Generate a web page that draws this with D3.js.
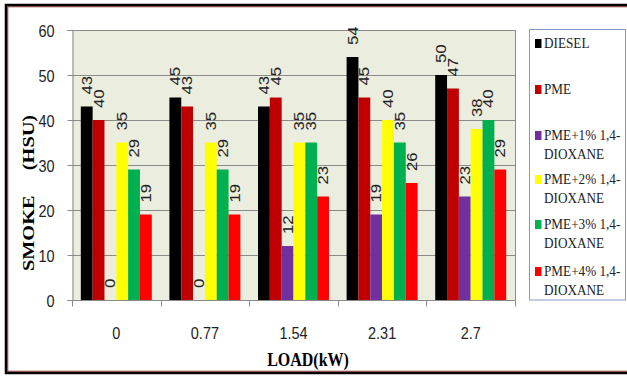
<!DOCTYPE html>
<html>
<head>
<meta charset="utf-8">
<script src="https://cdn.jsdelivr.net/npm/d3@7"></script>
<style>
  html, body { margin: 0; padding: 0; background: #fff; }
  svg { display: block; }
  text { white-space: pre; }
</style>
</head>
<body>
<svg id="chart" width="627" height="376"></svg>
<script>
// Engine load categories (kW)
const loads = ["0", "0.77", "1.54", "2.31", "2.7"];

// Smoke opacity (HSU) for each fuel blend
const diesel    = [43, 45, 43, 54, 50];
const pme       = [40, 43, 45, 45, 47];
const pmeDiox1  = [0, 0, 12, 19, 23];
const pmeDiox2  = [35, 35, 35, 40, 38];
const pmeDiox3  = [29, 29, 35, 35, 40];
const pmeDiox4  = [19, 19, 23, 26, 29];

const seriesNames = ["DIESEL", "PME", "PME+1% 1,4-DIOXANE", "PME+2% 1,4-DIOXANE", "PME+3% 1,4-DIOXANE", "PME+4% 1,4-DIOXANE"];
const legendLines = [["DIESEL"], ["PME"], ["PME+1% 1,4-", "DIOXANE"], ["PME+2% 1,4-", "DIOXANE"], ["PME+3% 1,4-", "DIOXANE"], ["PME+4% 1,4-", "DIOXANE"]];
const seriesColors = ["#000000", "#C00000", "#7030A0", "#FFFF00", "#00B050", "#FF0000"];
const seriesValues = [diesel, pme, pmeDiox1, pmeDiox2, pmeDiox3, pmeDiox4];

const yTicks = [0, 10, 20, 30, 40, 50, 60];

const svg = d3.select("#chart");
const STRETCH = 1.2;   // text is drawn slightly taller than wide

// outer frame
svg.append("rect").attr("x", 6).attr("y", 5).attr("width", 640).attr("height", 368)
  .attr("fill", "#fff").attr("stroke", "#000").attr("stroke-width", 2.5);
svg.append("rect").attr("x", 7.75).attr("y", 6.75).attr("width", 640).attr("height", 364.5)
  .attr("fill", "none").attr("stroke", "#7a2a2a").attr("stroke-width", 1);

const plot = { left: 72, right: 515, top: 30, bottom: 300 };

const x = d3.scaleBand().domain(loads).range([plot.left, plot.right]).paddingInner(0).paddingOuter(0);
const xs = d3.scaleBand().domain(d3.range(seriesNames.length)).range([0, x.bandwidth()])
  .paddingInner(0).paddingOuter(0.745);
const y = d3.scaleLinear().domain([0, 60]).range([plot.bottom, plot.top]);

// plot background
svg.append("rect").attr("x", plot.left).attr("y", plot.top)
  .attr("width", plot.right - plot.left).attr("height", plot.bottom - plot.top)
  .attr("fill", "#EBEDDE");

// gridlines
svg.append("g").selectAll("line").data(yTicks.filter(t => t > 0)).join("line")
  .attr("x1", plot.left).attr("x2", plot.right)
  .attr("y1", d => Math.round(y(d)) + 0.5).attr("y2", d => Math.round(y(d)) + 0.5)
  .attr("stroke", "#8a8a8a").attr("stroke-width", 1);
// right edge of plot
svg.append("line").attr("x1", plot.right + 0.5).attr("x2", plot.right + 0.5)
  .attr("y1", plot.top).attr("y2", plot.bottom).attr("stroke", "#8a8a8a");

// bars
const barData = [];
seriesValues.forEach((vals, si) => vals.forEach((v, ci) => barData.push({ si, ci, v })));

svg.append("g").selectAll("rect").data(barData).join("rect")
  .attr("x", d => x(loads[d.ci]) + xs(d.si))
  .attr("width", xs.bandwidth())
  .attr("y", d => y(d.v))
  .attr("height", d => y(0) - y(d.v))
  .attr("fill", d => seriesColors[d.si]);

// value labels (rotated, above each bar)
const lbl = svg.append("g").selectAll("g").data(barData).join("g")
  .attr("transform", d => `translate(${x(loads[d.ci]) + xs(d.si) + xs.bandwidth() / 2},${y(d.v) - 12}) scale(1,${STRETCH}) rotate(-90)`);
lbl.append("text")
  .attr("dy", "0.36em")
  .attr("font-family", "Liberation Sans, Arial, sans-serif")
  .attr("font-size", 14)
  .attr("fill", "#222")
  .text(d => d.v);

// y axis
const yAxis = d3.axisLeft(y).tickValues(yTicks).tickSize(5).tickPadding(12).tickFormat(d3.format("d"));
const gy = svg.append("g").attr("transform", `translate(${plot.left + 0.5},0)`).call(yAxis);
gy.select(".domain").attr("stroke", "#8a8a8a");
gy.selectAll(".tick line").attr("stroke", "#8a8a8a");
gy.selectAll(".tick text").remove();
gy.selectAll(".tick").append("g")
  .attr("transform", `translate(-18,0) scale(1,${STRETCH})`)
  .append("text")
  .attr("text-anchor", "end").attr("dy", "0.36em")
  .attr("font-family", "Liberation Sans, Arial, sans-serif").attr("font-size", 14.5)
  .attr("fill", "#222")
  .text(d => d);

// x axis: ticks at category boundaries, labels at centres
const gx = svg.append("g").attr("transform", `translate(0,${plot.bottom + 0.5})`);
gx.append("line").attr("x1", plot.left).attr("x2", plot.right + 0.5).attr("stroke", "#8a8a8a");
const bounds = loads.map(l => x(l)).concat([plot.right]);
gx.selectAll("line.tk").data(bounds).join("line").attr("class", "tk")
  .attr("x1", d => Math.round(d) + 0.5).attr("x2", d => Math.round(d) + 0.5)
  .attr("y1", 0).attr("y2", 6).attr("stroke", "#8a8a8a");
gx.selectAll("g.lab").data(loads).join("g").attr("class", "lab")
  .attr("transform", d => `translate(${x(d) + x.bandwidth() / 2},38.5) scale(1,${STRETCH})`)
  .append("text")
  .attr("text-anchor", "middle")
  .attr("font-family", "Liberation Sans, Arial, sans-serif").attr("font-size", 14.5)
  .attr("fill", "#222")
  .text(d => d);

// axis titles
svg.append("g").attr("transform", `translate(308,366) scale(1,${STRETCH})`)
  .append("text").attr("text-anchor", "middle")
  .attr("font-family", "Liberation Serif, Times New Roman, serif").attr("font-weight", "bold")
  .attr("font-size", 16).attr("fill", "#000")
  .text("LOAD(kW)");

svg.append("g").attr("transform", `translate(28,193) scale(1,1.27) rotate(-90)`)
  .append("text").attr("text-anchor", "middle").attr("dy", "0.35em")
  .attr("font-family", "Liberation Serif, Times New Roman, serif").attr("font-weight", "bold")
  .attr("font-size", 16).attr("fill", "#000")
  .text("SMOKE     (HSU)");

// legend
const legend = svg.append("g");
legend.append("rect").attr("x", 529.5).attr("y", 29.5).attr("width", 96).attr("height", 270.5)
  .attr("fill", "#fff").attr("stroke", "#7f9cc4").attr("stroke-width", 1);
const firstBaselines = [48, 94, 140, 184, 229, 276];
const item = legend.selectAll("g.item").data(seriesNames).join("g").attr("class", "item");
item.append("rect")
  .attr("x", 535).attr("y", (d, i) => firstBaselines[i] - 9)
  .attr("width", 6.5).attr("height", 9)
  .attr("fill", (d, i) => seriesColors[i]);
item.each(function (d, i) {
  const g = d3.select(this);
  legendLines[i].forEach((line, j) => {
    g.append("g")
      .attr("transform", `translate(544,${firstBaselines[i] + j * 18.5}) scale(1,1.15)`)
      .append("text")
      .attr("font-family", "Liberation Serif, Times New Roman, serif")
      .attr("font-size", 13.2).attr("fill", "#222")
      .text(line);
  });
});
</script>
</body>
</html>
